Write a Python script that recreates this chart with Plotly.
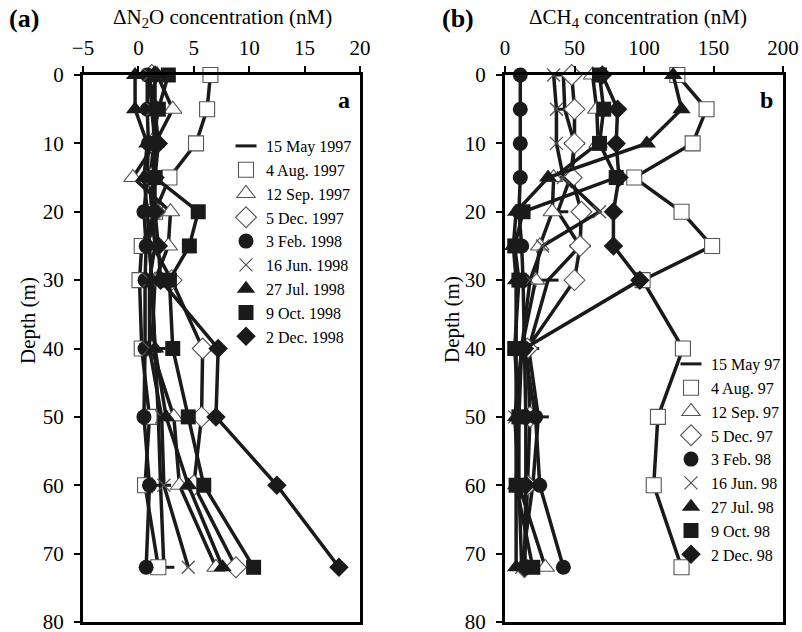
import plotly.graph_objects as go

# ---------------- data ----------------
depths = [0, 5, 10, 15, 20, 25, 30, 40, 50, 60, 72]

labels_a = ["15 May 1997", "4 Aug. 1997", "12 Sep. 1997", "5 Dec. 1997", "3 Feb. 1998",
            "16 Jun. 1998", "27 Jul. 1998", "9 Oct. 1998", "2 Dec. 1998"]
labels_b = ["15 May 97", "4 Aug. 97", "12 Sep. 97", "5 Dec. 97", "3 Feb. 98",
            "16 Jun. 98", "27 Jul. 98", "9 Oct. 98", "2 Dec. 98"]

# Delta N2O (nM)
n2o_may97 = [1.0, 1.2, 1.5, 1.0, 1.2, 1.0, 1.2, 1.5, 1.8, 2.0, 2.3]
n2o_aug97 = [6.5, 6.2, 5.2, 2.8, 1.5, 0.3, 0.1, 0.3, 1.0, 0.6, 1.8]
n2o_sep97 = [1.7, 3.1, 1.5, -0.5, 2.9, 2.7, 1.5, 1.2, 3.2, 3.7, 7.0]
n2o_dec97 = [1.2, 1.5, 1.3, 1.2, 1.5, 1.3, 3.0, 5.8, 5.7, 5.0, 8.8]
n2o_feb98 = [0.8, 0.8, 0.9, 0.8, 0.5, 0.7, 0.6, 0.6, 0.5, 1.0, 0.7]
n2o_jun98 = [1.0, 1.3, 1.5, 1.3, 1.2, 1.5, 1.0, 1.0, 2.1, 2.3, 4.5]
n2o_jul98 = [-0.3, -0.3, 0.8, 0.5, 0.8, 1.0, 1.2, 1.5, 2.5, 4.5, 7.6]
n2o_oct98 = [2.7, 1.8, 1.3, 1.5, 5.4, 4.6, 2.8, 3.1, 4.5, 5.9, 10.4]
n2o_dec98 = [1.5, 1.5, 1.8, 1.5, 1.5, 1.8, 2.0, 7.2, 7.0, 12.5, 18.1]

# Delta CH4 (nM)
ch4_may97 = [42, 43, 50, 47, 38, 54, 31, 17, 24, 20, 12]
ch4_aug97 = [124, 145, 135, 93, 127, 149, 99, 128, 110, 107, 127]
ch4_sep97 = [63, 66, 67, 35, 34, 25, 22, 12, 10, 10, 29]
ch4_dec97 = [48, 50, 50, 48, 55, 54, 50, 16, 18, 16, 14]
ch4_feb98 = [11, 11, 11, 11, 10, 12, 13, 14, 22, 25, 42]
ch4_jun98 = [35, 37, 37, 42, 68, 27, 18, 12, 7, 10, 12]
ch4_jul98 = [121, 127, 102, 31, 8, 6, 8, 8, 8, 8, 8]
ch4_oct98 = [68, 71, 68, 80, 13, 7, 10, 7, 10, 8, 20]
ch4_dec98 = [70, 81, 80, 82, 78, 78, 97, 14, 15, 15, 14]

x_ticks_a = [-5, 0, 5, 10, 15, 20]
x_ticks_b = [0, 50, 100, 150, 200]
y_ticks = [0, 10, 20, 30, 40, 50, 60, 70, 80]

series_a = [n2o_may97, n2o_aug97, n2o_sep97, n2o_dec97, n2o_feb98,
            n2o_jun98, n2o_jul98, n2o_oct98, n2o_dec98]
series_b = [ch4_may97, ch4_aug97, ch4_sep97, ch4_dec97, ch4_feb98,
            ch4_jun98, ch4_jul98, ch4_oct98, ch4_dec98]

# ---------------- styles ----------------
DARK = "#1a1a1a"
GREY = "#555555"
markers = [
    dict(symbol="line-ew", size=15, color=DARK, line=dict(width=3, color=DARK)),
    dict(symbol="square", size=15, color="white", line=dict(width=1.1, color=GREY)),
    dict(symbol="triangle-up", size=16, color="white", line=dict(width=1.1, color=GREY)),
    dict(symbol="diamond", size=16, color="white", line=dict(width=1.1, color=GREY)),
    dict(symbol="circle", size=15, color=DARK, line=dict(width=0, color=DARK)),
    dict(symbol="x-thin", size=13, color=GREY, line=dict(width=1.3, color=GREY)),
    dict(symbol="triangle-up", size=16, color=DARK, line=dict(width=0, color=DARK)),
    dict(symbol="square", size=15, color=DARK, line=dict(width=0, color=DARK)),
    dict(symbol="diamond", size=15, color=DARK, line=dict(width=0, color=DARK)),
]

FONT = "Liberation Serif"
W, H = 802, 632

fig = go.Figure()

for vals, mk in zip(series_a, markers):
    fig.add_trace(go.Scatter(x=vals, y=depths, mode="lines+markers", xaxis="x", yaxis="y",
                             line=dict(color=DARK, width=3.5), marker=mk, showlegend=False,
                             cliponaxis=False))
for vals, mk in zip(series_b, markers):
    fig.add_trace(go.Scatter(x=vals, y=depths, mode="lines+markers", xaxis="x2", yaxis="y2",
                             line=dict(color=DARK, width=3.5), marker=mk, showlegend=False,
                             cliponaxis=False))

# legend-only entries (markers only, like the original)
for lab, mk in zip(labels_a, markers):
    fig.add_trace(go.Scatter(x=[None], y=[None], mode="markers", name=lab, marker=mk,
                             xaxis="x", yaxis="y", legend="legend"))
for lab, mk in zip(labels_b, markers):
    fig.add_trace(go.Scatter(x=[None], y=[None], mode="markers", name=lab, marker=mk,
                             xaxis="x2", yaxis="y2", legend="legend2"))

ydom = [1 - 622 / H, 1 - 75 / H]
axis_common = dict(showline=True, linewidth=3, linecolor="black", mirror=True,
                   ticks="outside", ticklen=6, tickwidth=2, tickcolor="black",
                   showgrid=False, zeroline=False, automargin=False,
                   ticklabeloverflow="allow",
                   tickfont=dict(family=FONT, size=21, color="black"))

fig.update_layout(
    width=W, height=H,
    margin=dict(l=0, r=0, t=0, b=0, autoexpand=False),
    paper_bgcolor="white", plot_bgcolor="white",
    font=dict(family=FONT, color="black"),
    xaxis=dict(domain=[83 / W, 360 / W], range=[-5, 20], tickvals=x_ticks_a, side="top",
               anchor="y", ticklabelstandoff=3, **axis_common),
    yaxis=dict(domain=ydom, range=[80, 0], tickvals=y_ticks, anchor="x",
               ticklabelstandoff=6, **axis_common),
    xaxis2=dict(domain=[505 / W, 783 / W], range=[0, 200], tickvals=x_ticks_b, side="top",
                anchor="y2", ticklabelstandoff=3, **axis_common),
    yaxis2=dict(domain=ydom, range=[80, 0], tickvals=y_ticks, anchor="x2",
                ticklabelstandoff=6, **axis_common),
    legend=dict(x=226 / W, y=1 - 129 / H, xanchor="left", yanchor="top",
                font=dict(family=FONT, size=16, color="black"),
                bgcolor="rgba(0,0,0,0)", itemwidth=30, tracegroupgap=0),
    legend2=dict(x=671 / W, y=1 - 347 / H, xanchor="left", yanchor="top",
                 font=dict(family=FONT, size=16, color="black"),
                 bgcolor="rgba(0,0,0,0)", itemwidth=30, tracegroupgap=0),
)

ann = [
    dict(text="<b>(a)</b>", x=7 / W, y=1 - 18 / H, size=26, xanchor="left"),
    dict(text="ΔN<sub>2</sub>O concentration (nM)", x=222 / W, y=1 - 18 / H, size=21, xanchor="center"),
    dict(text="<b>(b)</b>", x=440 / W, y=1 - 18 / H, size=26, xanchor="left"),
    dict(text="ΔCH<sub>4</sub> concentration (nM)", x=638 / W, y=1 - 18 / H, size=21, xanchor="center"),
    dict(text="<b>a</b>", x=352 / W, y=1 - 100 / H, size=24, xanchor="right"),
    dict(text="<b>b</b>", x=775 / W, y=1 - 100 / H, size=24, xanchor="right"),
]
for a in ann:
    fig.add_annotation(text=a["text"], x=a["x"], y=a["y"], xref="paper", yref="paper",
                       xanchor=a["xanchor"], yanchor="middle", showarrow=False,
                       font=dict(family=FONT, size=a["size"], color="black"))

for xpos in (28, 452):
    fig.add_annotation(text="Depth (m)", x=xpos / W, y=1 - 320 / H, xref="paper", yref="paper",
                       textangle=-90, showarrow=False, xanchor="center", yanchor="middle",
                       font=dict(family=FONT, size=21, color="black"))

fig.write_html("out.html")
